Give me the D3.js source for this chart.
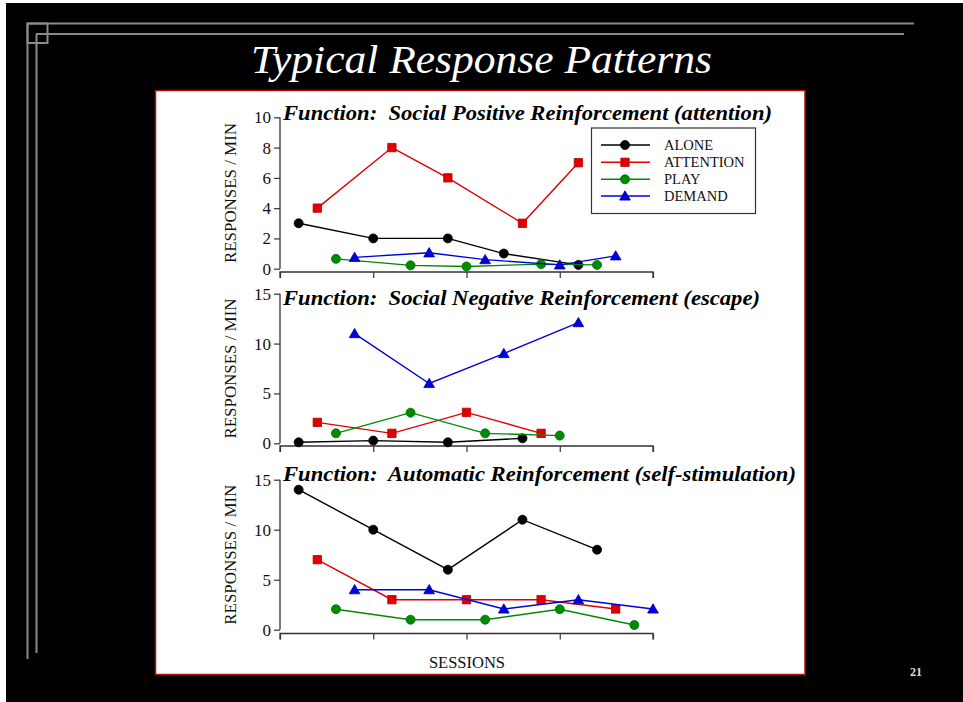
<!DOCTYPE html>
<html><head><meta charset="utf-8">
<script src="https://cdn.jsdelivr.net/npm/d3@7"></script>
<style>html,body{margin:0;padding:0;background:#fff;}svg{display:block;}</style>
</head><body>
<script>
// ---- data ----
const seriesNames = ["ALONE", "ATTENTION", "PLAY", "DEMAND"];
const seriesColors = ["#000000", "#e00000", "#008a00", "#0000dd"];
const seriesShapes = ["circle", "square", "circle", "triangle"];

const panelTitles = [
  "Function:  Social Positive Reinforcement (attention)",
  "Function:  Social Negative Reinforcement (escape)",
  "Function:  Automatic Reinforcement (self-stimulation)"
];
const yMax = [10, 15, 15];
const yTicks = [[0, 2, 4, 6, 8, 10], [0, 5, 10, 15], [0, 5, 10, 15]];
const xTicks = [0, 5, 10, 15, 20];

// panel 1: social positive (attention)
const p1AloneX = [1, 5, 9, 12, 16],  p1AloneY = [3, 2, 2, 1, 0.25];
const p1AttnX  = [2, 6, 9, 13, 16],  p1AttnY  = [4, 8, 6, 3, 7];
const p1PlayX  = [3, 7, 10, 14, 17], p1PlayY  = [0.65, 0.22, 0.15, 0.3, 0.25];
const p1DemX   = [4, 8, 11, 15, 18], p1DemY   = [0.75, 1.05, 0.6, 0.25, 0.85];
// panel 2: social negative (escape)
const p2AloneX = [1, 5, 9, 13],  p2AloneY = [0.1, 0.27, 0.1, 0.5];
const p2AttnX  = [2, 6, 10, 14], p2AttnY  = [2.1, 1.0, 3.1, 1.0];
const p2PlayX  = [3, 7, 11, 15], p2PlayY  = [1.0, 3.07, 1.0, 0.77];
const p2DemX   = [4, 8, 12, 16], p2DemY   = [11, 6, 9, 12.1];
// panel 3: automatic
const p3AloneX = [1, 5, 9, 13, 17],  p3AloneY = [14, 10, 6, 11, 8];
const p3AttnX  = [2, 6, 10, 14, 18], p3AttnY  = [7, 3, 3, 3, 2.07];
const p3PlayX  = [3, 7, 11, 15, 19], p3PlayY  = [2.05, 1, 1, 2.05, 0.47];
const p3DemX   = [4, 8, 12, 16, 20], p3DemY   = [4, 4, 2.07, 3, 2.07];

const panelData = [
  [[p1AloneX, p1AloneY], [p1AttnX, p1AttnY], [p1PlayX, p1PlayY], [p1DemX, p1DemY]],
  [[p2AloneX, p2AloneY], [p2AttnX, p2AttnY], [p2PlayX, p2PlayY], [p2DemX, p2DemY]],
  [[p3AloneX, p3AloneY], [p3AttnX, p3AttnY], [p3PlayX, p3PlayY], [p3DemX, p3DemY]]
];

// ---- layout ----
const W = 963, H = 702;
const panelLayout = [
  {top: 117.3, bottom: 268.7, axisY: 272, titleY: 120, titleW: 489},
  {top: 293.7, bottom: 443.3, axisY: 446, titleY: 305, titleW: 477},
  {top: 479.7, bottom: 629.7, axisY: 633.5, titleY: 481, titleW: 513}
];
const serif = "Liberation Serif, Times New Roman, Times, Tinos, DejaVu Serif, serif";

const svg = d3.select("body").append("svg").attr("width", W).attr("height", H);

// slide background
svg.append("rect").attr("x", 6).attr("y", 3).attr("width", W - 6).attr("height", H - 3).attr("fill", "#000");

// decorative frame lines
const deco = svg.append("g").attr("stroke", "#8a8a8a").attr("stroke-width", 2).attr("fill", "none");
deco.append("line").attr("x1", 27).attr("y1", 23.5).attr("x2", 914).attr("y2", 23.5);
deco.append("line").attr("x1", 36).attr("y1", 34).attr("x2", 904).attr("y2", 34);
deco.append("line").attr("x1", 27.5).attr("y1", 23).attr("x2", 27.5).attr("y2", 659);
deco.append("line").attr("x1", 36.5).attr("y1", 34).attr("x2", 36.5).attr("y2", 653);
deco.append("rect").attr("x", 27.5).attr("y", 23.5).attr("width", 20).attr("height", 19.5);

// main title
svg.append("text").attr("x", 251).attr("y", 73)
  .attr("fill", "#fff").attr("font-family", serif).attr("font-style", "italic")
  .attr("font-size", 41).attr("textLength", 461).attr("lengthAdjust", "spacingAndGlyphs")
  .text("Typical Response Patterns");

// white chart panel
svg.append("rect").attr("x", 155.5).attr("y", 90.5).attr("width", 649.5).attr("height", 584)
  .attr("fill", "#fff").attr("stroke", "#b01010").attr("stroke-width", 1.5);

// page number
svg.append("text").attr("x", 916).attr("y", 676).attr("text-anchor", "middle")
  .attr("fill", "#ddd").attr("font-family", serif).attr("font-weight", "bold")
  .attr("font-size", 12).text("21");

const x = d3.scaleLinear().domain([0, 20]).range([280, 653]);

const symMap = {circle: d3.symbolCircle, square: d3.symbolSquare, triangle: d3.symbolTriangle};
const symSize = {circle: 64, square: 70, triangle: 50};

panelLayout.forEach((L, pi) => {
  const g = svg.append("g");
  const y = d3.scaleLinear().domain([0, yMax[pi]]).range([L.bottom, L.top]);

  // y axis
  const yAx = g.append("g").attr("transform", "translate(280,0)")
    .call(d3.axisLeft(y).tickValues(yTicks[pi]).tickSize(6).tickPadding(3));
  yAx.select(".domain").attr("d", `M0,${L.bottom}V${L.top}`).attr("stroke", "#333").attr("stroke-width", 1.3);
  yAx.selectAll(".tick line").attr("stroke", "#333").attr("stroke-width", 1.2);
  yAx.selectAll(".tick text").attr("font-family", serif).attr("font-size", 17).attr("fill", "#111");

  // x axis
  const xAx = g.append("g").attr("transform", `translate(0,${L.axisY})`)
    .call(d3.axisBottom(x).tickValues(xTicks).tickSize(6).tickFormat(""));
  xAx.select(".domain").attr("d", `M${x(0)},6V0H${x(20)}V6`).attr("stroke", "#333").attr("stroke-width", 1.3).attr("fill", "none");
  xAx.selectAll(".tick line").attr("stroke", "#333").attr("stroke-width", 1.2);

  // y label
  g.append("text").attr("transform", `translate(236,${(L.top + L.bottom) / 2}) rotate(-90)`)
    .attr("text-anchor", "middle").attr("font-family", serif).attr("font-size", 16)
    .attr("textLength", 140).attr("lengthAdjust", "spacingAndGlyphs")
    .attr("fill", "#111").text("RESPONSES / MIN");

  // series
  panelData[pi].forEach(([xs, ys], si) => {
    const pts = xs.map((v, i) => [x(v), y(ys[i])]);
    g.append("path").attr("d", d3.line()(pts)).attr("fill", "none")
      .attr("stroke", seriesColors[si]).attr("stroke-width", 1.4);
    g.selectAll(null).data(pts).enter().append("path")
      .attr("transform", d => `translate(${d[0]},${d[1] + (seriesShapes[si] === "triangle" ? 1 : 0)})`)
      .attr("d", d3.symbol().type(symMap[seriesShapes[si]]).size(symSize[seriesShapes[si]]))
      .attr("fill", seriesColors[si])
      .attr("stroke", d3.color(seriesColors[si]).darker(0.6)).attr("stroke-width", 0.8);
  });

  // panel title
  g.append("text").attr("x", 283).attr("y", L.titleY)
    .attr("font-family", serif).attr("font-style", "italic").attr("font-weight", "bold")
    .attr("font-size", 20).attr("fill", "#000").attr("xml:space", "preserve")
    .attr("textLength", L.titleW).attr("lengthAdjust", "spacingAndGlyphs")
    .style("white-space", "pre").text(panelTitles[pi]);
});

// legend
const lg = svg.append("g");
lg.append("rect").attr("x", 591.5).attr("y", 128).attr("width", 164).attr("height", 85.5)
  .attr("fill", "#fff").attr("stroke", "#333").attr("stroke-width", 1.2);
const legendRows = [145, 162.3, 179.3, 196];
seriesNames.forEach((name, i) => {
  const yy = legendRows[i];
  lg.append("line").attr("x1", 601).attr("x2", 650).attr("y1", yy).attr("y2", yy)
    .attr("stroke", seriesColors[i]).attr("stroke-width", 1.4);
  lg.append("path").attr("transform", `translate(625,${yy + (seriesShapes[i] === "triangle" ? 1 : 0)})`)
    .attr("d", d3.symbol().type(symMap[seriesShapes[i]]).size(symSize[seriesShapes[i]]))
    .attr("fill", seriesColors[i]).attr("stroke", d3.color(seriesColors[i]).darker(0.6)).attr("stroke-width", 0.8);
  lg.append("text").attr("x", 664).attr("y", yy + 5).attr("font-family", serif)
    .attr("font-size", 14.5).attr("fill", "#111").text(name);
});

// x label
svg.append("text").attr("x", 467).attr("y", 668).attr("text-anchor", "middle")
  .attr("font-family", serif).attr("font-size", 16.5).attr("fill", "#111").text("SESSIONS");
</script>
</body></html>
